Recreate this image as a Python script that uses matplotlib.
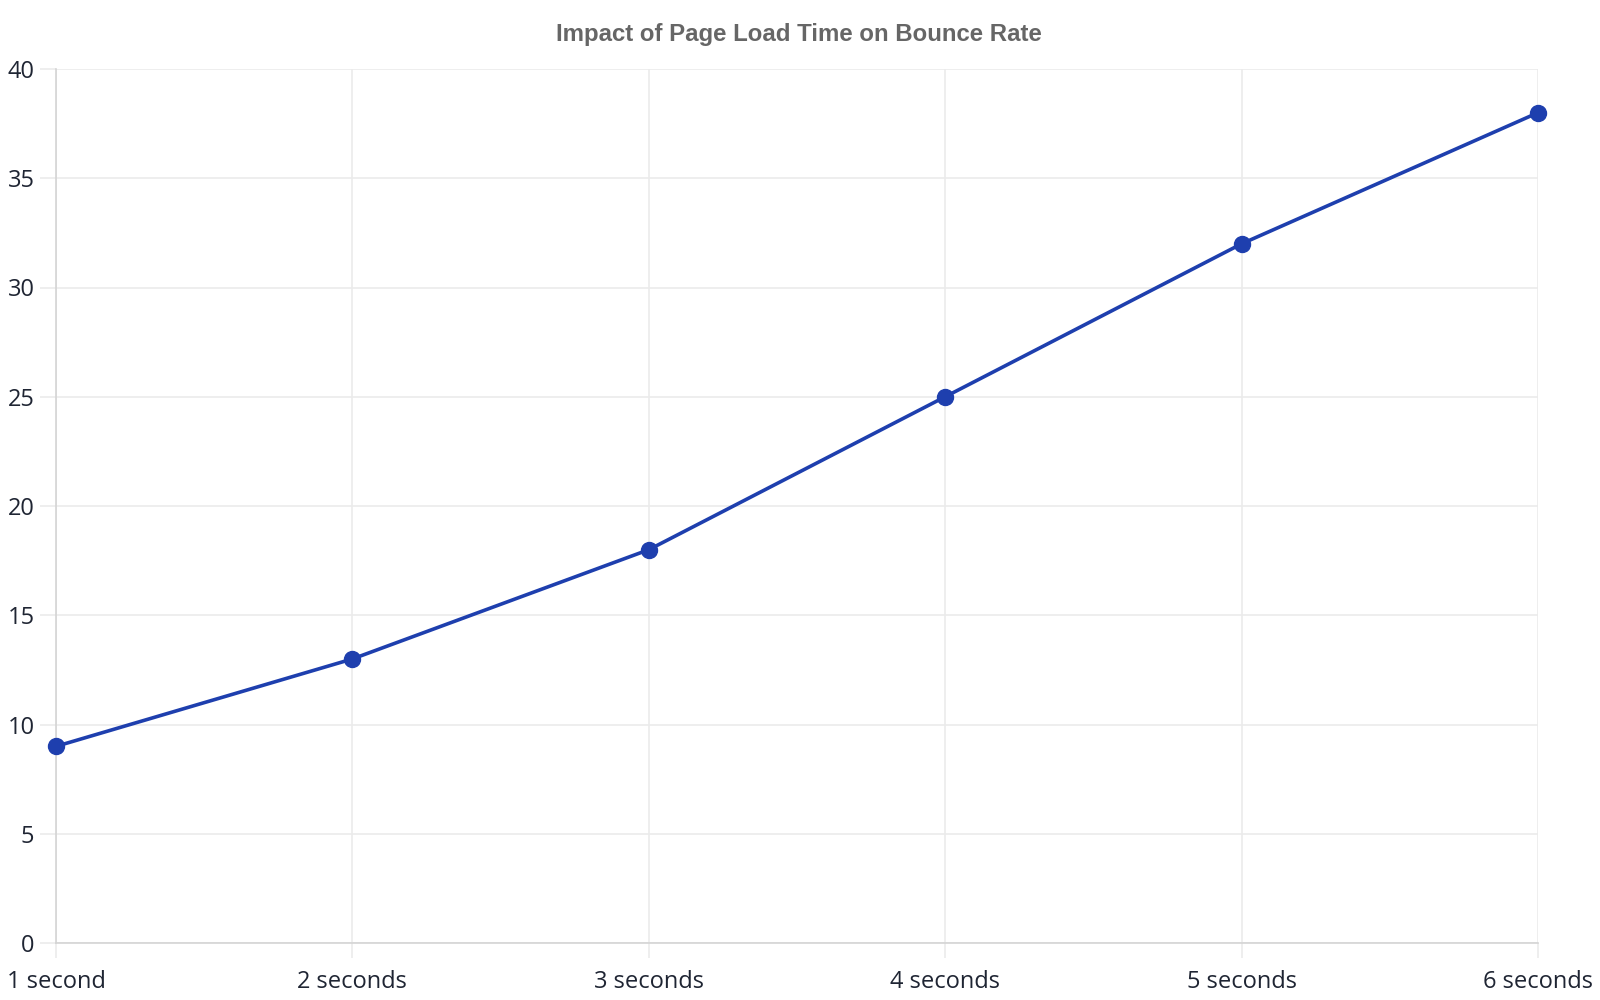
import matplotlib
matplotlib.use("Agg")
import matplotlib.pyplot as plt

# page load time vs bounce rate
labels = ["1 second", "2 seconds", "3 seconds", "4 seconds", "5 seconds", "6 seconds"]
bounce = [9, 13, 18, 25, 32, 38]
y_ticks = [0, 5, 10, 15, 20, 25, 30, 35, 40]

grid_c = "#ebebeb"
axis_c = "#d4d4d4"
text_c = "#1f2533"

fig = plt.figure(figsize=(16, 10), dpi=100)
ax = fig.add_axes([56 / 1600, 1 - 943 / 1000, (1538 - 56) / 1600, (943 - 69) / 1000])

x = list(range(len(labels)))
ax.plot(x, bounce, color="#1e3fae", lw=2.6, marker="o", ms=11.5, zorder=3, clip_on=False)

ax.set_xlim(0, len(labels) - 1)
ax.set_ylim(0, 40)
ax.set_xticks(x)
ax.set_xticklabels(labels)
ax.set_yticks(y_ticks)
ax.grid(True, color=grid_c, lw=1.2)
ax.set_axisbelow(True)

for s in ["top", "right"]:
    ax.spines[s].set_visible(False)
for s in ["left", "bottom"]:
    ax.spines[s].set_color(axis_c)
    ax.spines[s].set_linewidth(1.2)

ax.tick_params(axis="y", length=11.5, width=1.2, color=grid_c, pad=4,
               labelsize=17, labelcolor=text_c)
ax.tick_params(axis="x", length=11, width=1.2, color=grid_c, pad=8.5,
               labelsize=17, labelcolor=text_c)
for t in ax.get_xticklabels() + ax.get_yticklabels():
    t.set_fontfamily("Open Sans")

fig.text(799 / 1600, 1 - 34 / 1000, "Impact of Page Load Time on Bounce Rate",
         ha="center", va="center", fontsize=17.3, fontweight="bold",
         color="#666666", family="Liberation Sans")

fig.savefig("out.png", dpi=100)
